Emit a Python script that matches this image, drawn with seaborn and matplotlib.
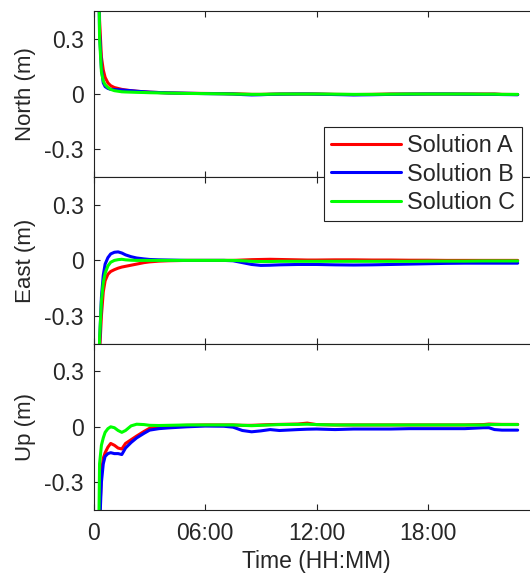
import numpy as np
import pandas as pd
import matplotlib
matplotlib.use('Agg')
import matplotlib.pyplot as plt
import seaborn as sns

# tempo em horas desde o início
horas = [0.15, 0.3, 0.4, 0.5, 0.6, 0.75, 0.9, 1.1, 1.3, 1.5, 1.7, 2.0, 2.3, 2.7, 3.0, 3.5,
         4.0, 5.0, 6.0, 7.0, 7.5, 8.0, 8.5, 9.0, 9.5, 10.0, 11.0, 11.5, 12.0, 13.0, 14.0,
         15.0, 16.0, 17.0, 18.0, 19.0, 20.0, 21.0, 21.3, 21.6, 22.0, 22.85]

solucoes = ['Solution A', 'Solution B', 'Solution C']
cores = ['#ff0000', '#0000ff', '#00ff00']
componentes = ['North (m)', 'East (m)', 'Up (m)']

north_a = [1.5, 0.40, 0.20, 0.13, 0.09, 0.06, 0.045, 0.035, 0.03, 0.025, 0.022, 0.018, 0.015, 0.012,
           0.01, 0.008, 0.006, 0.004, 0.003, 0.002, 0.001, 0.0, -0.002, -0.002, -0.001, 0.0, 0.0,
           0.0, 0.0, -0.002, -0.003, -0.002, 0.0, 0.0, 0.0, 0.0, 0.0, 0.0, 0.0, 0.0, -0.002, -0.003]
north_b = [1.5, 0.33, 0.14, 0.06, 0.04, 0.03, 0.025, 0.024, 0.023, 0.022, 0.02, 0.018, 0.015, 0.012,
           0.01, 0.008, 0.006, 0.004, 0.002, 0.001, 0.0, -0.003, -0.005, -0.004, -0.002, -0.001,
           0.0, 0.0, -0.001, -0.003, -0.005, -0.004, -0.002, -0.001, 0.0, 0.0, -0.001, -0.002,
           -0.002, -0.002, -0.003, -0.004]
north_c = [1.5, 0.30, 0.12, 0.07, 0.05, 0.035, 0.025, 0.018, 0.015, 0.012, 0.011, 0.01, 0.009, 0.008,
           0.007, 0.006, 0.005, 0.003, 0.002, 0.001, 0.0, -0.001, -0.002, -0.002, -0.001, 0.0, 0.0,
           0.0, 0.0, -0.001, -0.002, -0.002, -0.001, 0.0, 0.0, 0.0, 0.0, -0.001, -0.001, -0.001,
           -0.002, -0.002]

east_a = [-1.5, -0.5, -0.3, -0.17, -0.11, -0.075, -0.06, -0.05, -0.042, -0.036, -0.032, -0.026,
          -0.02, -0.012, -0.008, -0.004, -0.002, 0.0, 0.0, 0.0, 0.0, 0.002, 0.004, 0.005, 0.006,
          0.005, 0.003, 0.002, 0.002, 0.003, 0.003, 0.002, 0.002, 0.001, 0.001, 0.0, 0.0, 0.0, 0.0,
          0.0, 0.0, 0.0]
east_b = [-1.5, -0.45, -0.2, -0.08, -0.02, 0.015, 0.035, 0.044, 0.046, 0.04, 0.03, 0.02, 0.013,
          0.008, 0.005, 0.003, 0.002, 0.0, 0.0, 0.0, -0.002, -0.012, -0.022, -0.027, -0.026, -0.024,
          -0.022, -0.022, -0.022, -0.024, -0.025, -0.024, -0.022, -0.02, -0.018, -0.016, -0.015,
          -0.015, -0.015, -0.015, -0.015, -0.015]
east_c = [-1.5, -0.42, -0.22, -0.12, -0.07, -0.03, -0.01, 0.0, 0.004, 0.006, 0.003, 0.001, 0.0, 0.0,
          0.0, 0.0, 0.0, 0.0, 0.0, 0.0, 0.0, -0.002, -0.005, -0.006, -0.006, -0.005, -0.005, -0.005,
          -0.005, -0.005, -0.005, -0.005, -0.005, -0.005, -0.004, -0.004, -0.004, -0.003, -0.003,
          -0.003, -0.003, -0.003]

up_a = [-1.5, -0.5, -0.25, -0.17, -0.14, -0.11, -0.09, -0.1, -0.115, -0.12, -0.09, -0.07, -0.05,
        -0.025, -0.008, 0.0, 0.005, 0.008, 0.01, 0.01, 0.01, 0.008, 0.008, 0.01, 0.012, 0.013, 0.015,
        0.02, 0.012, 0.01, 0.01, 0.01, 0.01, 0.01, 0.01, 0.01, 0.01, 0.012, 0.015, 0.014, 0.013, 0.013]
up_b = [-1.5, -0.55, -0.3, -0.2, -0.16, -0.145, -0.14, -0.145, -0.145, -0.15, -0.115, -0.085,
        -0.06, -0.035, -0.018, -0.01, -0.006, 0.0, 0.004, 0.003, -0.002, -0.02, -0.027, -0.022,
        -0.015, -0.02, -0.015, -0.013, -0.012, -0.015, -0.012, -0.012, -0.012, -0.01, -0.01, -0.01,
        -0.01, -0.005, -0.005, -0.015, -0.018, -0.018]
up_c = [-1.5, -0.2, -0.1, -0.06, -0.03, -0.01, 0.0, -0.005, -0.02, -0.03, -0.02, 0.005, 0.014,
        0.012, 0.008, 0.007, 0.008, 0.01, 0.01, 0.01, 0.01, 0.008, 0.006, 0.008, 0.01, 0.012, 0.013,
        0.014, 0.012, 0.01, 0.01, 0.01, 0.01, 0.01, 0.01, 0.01, 0.01, 0.01, 0.012, 0.012, 0.012, 0.012]

series = {
    'North (m)': [north_a, north_b, north_c],
    'East (m)': [east_a, east_b, east_c],
    'Up (m)': [up_a, up_b, up_c],
}

# monta o DataFrame em formato longo
linhas = []
for comp in componentes:
    for sol, valores in zip(solucoes, series[comp]):
        for h, v in zip(horas, valores):
            linhas.append({'componente': comp, 'solucao': sol, 'hora': h, 'valor': v})
df = pd.DataFrame(linhas)

sns.set_style('ticks')
plt.rcParams['font.family'] = ['Liberation Sans', 'DejaVu Sans']
plt.rcParams['xtick.direction'] = 'in'
plt.rcParams['ytick.direction'] = 'in'

fig = plt.figure(figsize=(5.30, 5.74), dpi=100)
esq, larg = 94 / 530, 445 / 530
alt = 166.4 / 574
base = 1 - 510 / 574
eixos = []
for i, comp in enumerate(componentes):
    ax = fig.add_axes([esq, base + (2 - i) * alt, larg, alt])
    sns.lineplot(data=df[df['componente'] == comp], x='hora', y='valor', hue='solucao',
                 palette=cores, hue_order=solucoes, linewidth=2.2, legend=False, ax=ax,
                 sort=False, estimator=None)
    ax.set_xlim(0, 24)
    ax.set_ylim(-0.45, 0.45)
    ax.set_yticks([-0.3, 0, 0.3])
    ax.set_yticklabels(['-0.3', '0', '0.3'])
    ax.set_xticks([0, 6, 12, 18, 24])
    ax.set_ylabel(comp, fontsize=16, labelpad=6)
    ax.tick_params(labelsize=16.5, top=True, right=True, length=4, width=0.8, color='#222222')
    ax.tick_params(axis='y', pad=7.5)
    ax.tick_params(axis='x', pad=9)
    for s in ax.spines.values():
        s.set_linewidth(0.8)
        s.set_color('#222222')
    if i < 2:
        ax.set_xticklabels([])
        ax.set_xlabel('')
    else:
        ax.set_xticklabels(['0', '06:00', '12:00', '18:00', ''])
        ax.set_xlabel('Time (HH:MM)', fontsize=16.5, labelpad=3)
    eixos.append(ax)

alinhar = [plt.Line2D([], [], color=c, linewidth=2.2) for c in cores]
leg = fig.legend(alinhar, solucoes, loc='upper right', bbox_to_anchor=(0.985, 1 - 127 / 574),
                 borderaxespad=0, fontsize=16.8, handlelength=3.0, handletextpad=0.25,
                 labelspacing=0.24, fancybox=False, framealpha=1, edgecolor='#222222',
                 borderpad=0.3)
leg.get_frame().set_linewidth(0.8)

fig.savefig('out.png', dpi=100)
